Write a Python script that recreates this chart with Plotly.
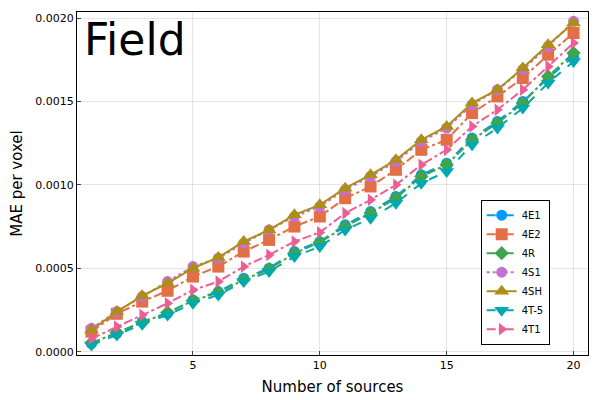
import plotly.graph_objects as go

x = list(range(1, 21))
names = ["4E1", "4E2", "4R", "4S1", "4SH", "4T-5", "4T1"]

e1 = [0.000048, 0.00011, 0.00018, 0.00023, 0.00031, 0.00036, 0.00044, 0.0005, 0.0006, 0.00066,
      0.00076, 0.00084, 0.00093, 0.00106, 0.00113, 0.00128, 0.00138, 0.0015, 0.00164, 0.00177]
e2 = [0.00012, 0.000227, 0.0003, 0.000365, 0.00045, 0.00051, 0.0006, 0.00067, 0.00075, 0.00081,
      0.00092, 0.00099, 0.00109, 0.00121, 0.00127, 0.00143, 0.00153, 0.00164, 0.00178, 0.00191]
r4 = [0.000052, 0.000115, 0.000175, 0.000235, 0.000305, 0.000355, 0.00043, 0.000495, 0.00059, 0.000655,
      0.00075, 0.00083, 0.00092, 0.00105, 0.00112, 0.00127, 0.00137, 0.00149, 0.00165, 0.00179]
s1 = [0.00014, 0.00024, 0.00033, 0.00042, 0.00051, 0.00056, 0.00065, 0.00073, 0.00081, 0.00087,
      0.00097, 0.00105, 0.00114, 0.00126, 0.00134, 0.00148, 0.00157, 0.00169, 0.00183, 0.00198]
sh = [0.00013, 0.00024, 0.000335, 0.00041, 0.0005, 0.000565, 0.00066, 0.00073, 0.00082, 0.00088,
      0.00098, 0.00106, 0.00115, 0.00127, 0.00135, 0.00149, 0.00157, 0.0017, 0.00184, 0.00197]
t5 = [0.00004, 0.0001, 0.000165, 0.00022, 0.00029, 0.00034, 0.00042, 0.00048, 0.00057, 0.00063,
      0.00073, 0.0008, 0.00089, 0.00101, 0.00108, 0.00124, 0.00134, 0.00146, 0.00161, 0.00174]
t1 = [0.000078, 0.00015, 0.00022, 0.00029, 0.00037, 0.00042, 0.00051, 0.00058, 0.00066, 0.000715,
      0.00083, 0.00091, 0.001, 0.00112, 0.00121, 0.00135, 0.00145, 0.00157, 0.00171, 0.00185]

series = [e1, e2, r4, s1, sh, t5, t1]
colors = ["#009AFA", "#E36F47", "#3EA44E", "#C371D2", "#AC8E18", "#00A9AD", "#ED5E93"]
dashes = ["dash", "dashdot", "dashdot", "dot", "solid", "dash", "dashdot"]
symbols = ["circle", "square", "diamond", "circle", "triangle-up", "triangle-down", "triangle-right"]
sizes = [11, 12, 11, 11, 13, 13, 11]

fig = go.Figure()
for n, y, c, d, s, sz in zip(names, series, colors, dashes, symbols, sizes):
    fig.add_trace(go.Scatter(
        x=x, y=y, name=n, mode="lines+markers",
        line=dict(color=c, dash=d, width=2),
        marker=dict(symbol=s, size=sz, color=c, line=dict(width=0)),
    ))

font = "DejaVu Sans"
fig.update_layout(
    width=600, height=400,
    margin=dict(l=69, r=20, t=4, b=53),
    paper_bgcolor="white", plot_bgcolor="white",
    font=dict(family=font, color="black"),
    showlegend=True,
    legend=dict(
        x=0.79, y=0.03, xanchor="left", yanchor="bottom",
        bordercolor="black", borderwidth=1, bgcolor="white",
        font=dict(size=10, family=font), tracegroupgap=0, itemwidth=30,
    ),
    xaxis=dict(
        range=[0.43, 20.57], tickvals=[5, 10, 15, 20], ticks="inside", ticklen=4,
        showgrid=True, gridcolor="rgba(0,0,0,0.1)", gridwidth=1,
        showline=True, linecolor="black", linewidth=1, mirror=True,
        zeroline=False, tickfont=dict(size=11), automargin=False,
        title=dict(text="Number of sources", font=dict(size=15), standoff=10),
    ),
    yaxis=dict(
        range=[-0.00002, 0.002036], tickvals=[0, 0.0005, 0.001, 0.0015, 0.002],
        tickformat=".4f", ticks="inside", ticklen=4,
        showgrid=True, gridcolor="rgba(0,0,0,0.1)", gridwidth=1,
        showline=True, linecolor="black", linewidth=1, mirror=True,
        zeroline=False, tickfont=dict(size=11), automargin=False,
        title=dict(text="MAE per voxel", font=dict(size=15), standoff=12),
    ),
    annotations=[dict(
        text="Field", xref="paper", yref="paper", x=0.01, y=1.0,
        xanchor="left", yanchor="top", showarrow=False,
        font=dict(size=44, family=font, color="black"),
    )],
)

fig.write_html("out.html")
